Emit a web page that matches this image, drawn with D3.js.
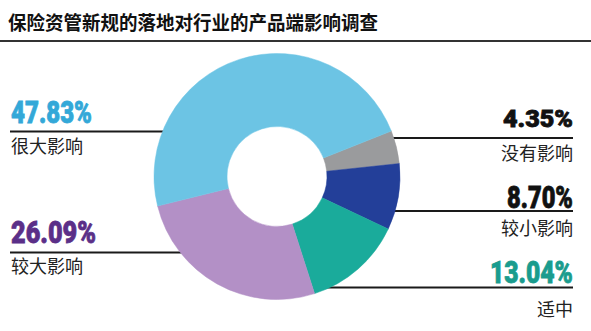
<!DOCTYPE html>
<html>
<head>
<meta charset="utf-8">
<script src="https://cdn.jsdelivr.net/npm/d3@7"></script>
<style>
  body { margin: 0; background: #fff; }
  svg { display: block; }
</style>
</head>
<body>
<script>
// data, in clockwise order starting from the grey slice
var categories = ["没有影响", "较小影响", "适中", "较大影响", "很大影响"];
var values = [4.35, 8.70, 13.04, 26.09, 47.83];
var pctLabels = ["4.35%", "8.70%", "13.04%", "26.09%", "47.83%"];
var sliceColors = ["#9a9b9d", "#233f99", "#1aab9b", "#b390c6", "#6cc4e4"];
var pctColors = ["#111111", "#111111", "#1a9c8e", "#5b2f88", "#33a8d8"];

// label layout: side, y of the rule, baselines, width of percent text
var labelLayout = [
  {side: "right", lineY: 138, pctY: 126.5, pctSize: 24, pctW: 70, catY: 160},
  {side: "right", lineY: 211, pctY: 208, pctSize: 30.5, pctW: 66, catY: 235},
  {side: "right", lineY: 287.5, pctY: 283.3, pctSize: 30.5, pctW: 83, catY: 316},
  {side: "left", lineY: 252.5, pctY: 243.3, pctSize: 30.5, pctW: 85, catY: 273},
  {side: "left", lineY: 131.5, pctY: 123, pctSize: 30.5, pctW: 81, catY: 153}
];

var width = 591, height = 331;
var cx = 277, cy = 176.5, outerR = 123, innerR = 50;

var svg = d3.select("body").append("svg")
    .attr("width", width)
    .attr("height", height);

// title
svg.append("text")
    .attr("x", 8)
    .attr("y", 30)
    .attr("font-family", "'Noto Sans CJK SC', sans-serif")
    .attr("font-weight", "bold")
    .attr("font-size", 19)
    .attr("fill", "#111")
    .attr("textLength", 370)
    .attr("lengthAdjust", "spacingAndGlyphs")
    .text("保险资管新规的落地对行业的产品端影响调查");

svg.append("line")
    .attr("x1", 0).attr("x2", width)
    .attr("y1", 41).attr("y2", 41)
    .attr("stroke", "#333")
    .attr("stroke-width", 2);

var rows = categories.map(function(c, i) {
  return {cat: c, value: values[i], pct: pctLabels[i], color: sliceColors[i], pctColor: pctColors[i], lay: labelLayout[i]};
});

var edgeHalf = function(y) {
  var dy = y - cy;
  return Math.sqrt(outerR * outerR - dy * dy);
};

// leader rules, from the donut edge out to the text column
svg.append("g").selectAll("line")
    .data(rows)
    .enter()
    .append("line")
    .attr("x1", function(d) {
      return d.lay.side == "left" ? 10 : cx + edgeHalf(d.lay.lineY) - 4;
    })
    .attr("x2", function(d) {
      return d.lay.side == "left" ? cx - edgeHalf(d.lay.lineY) + 4 : 573;
    })
    .attr("y1", function(d) { return d.lay.lineY; })
    .attr("y2", function(d) { return d.lay.lineY; })
    .attr("stroke", "#1a1a1a")
    .attr("stroke-width", 2);

// donut
var start = 68.3 * Math.PI / 180;
var pie = d3.pie()
    .sort(null)
    .value(function(d) { return d.value; })
    .startAngle(start)
    .endAngle(start + 2 * Math.PI);

var arc = d3.arc()
    .innerRadius(innerR)
    .outerRadius(outerR);

svg.append("g")
    .attr("transform", "translate(" + cx + "," + cy + ")")
    .selectAll("path")
    .data(pie(rows))
    .enter()
    .append("path")
    .attr("d", arc)
    .attr("fill", function(d) { return d.data.color; })
    .attr("stroke", function(d) { return d.data.color; })
    .attr("stroke-width", 0.5);

// percent labels, squeezed horizontally to the condensed look of the original
svg.append("g").selectAll("text")
    .data(rows)
    .enter()
    .append("text")
    .attr("font-family", "Roboto, 'DejaVu Sans', sans-serif")
    .attr("font-weight", 900)
    .attr("font-size", function(d) { return d.lay.pctSize; })
    .attr("fill", function(d) { return d.pctColor; })
    .attr("stroke", function(d) { return d.pctColor; })
    .attr("stroke-width", 0.8)
    .text(function(d) { return d.pct; })
    .each(function(d) {
      var w = this.getComputedTextLength();
      var x0 = d.lay.side == "left" ? 11 : 573 - d.lay.pctW;
      d3.select(this).attr("transform",
        "translate(" + x0 + "," + d.lay.pctY + ") scale(" + (d.lay.pctW / w) + ",1)");
    });

// category labels
svg.append("g").selectAll("text")
    .data(rows)
    .enter()
    .append("text")
    .attr("x", function(d) { return d.lay.side == "left" ? 11 : 573; })
    .attr("y", function(d) { return d.lay.catY; })
    .attr("text-anchor", function(d) { return d.lay.side == "left" ? "start" : "end"; })
    .attr("font-family", "'Noto Sans CJK SC', sans-serif")
    .attr("font-size", 18)
    .attr("fill", "#222")
    .text(function(d) { return d.cat; });
</script>
</body>
</html>
